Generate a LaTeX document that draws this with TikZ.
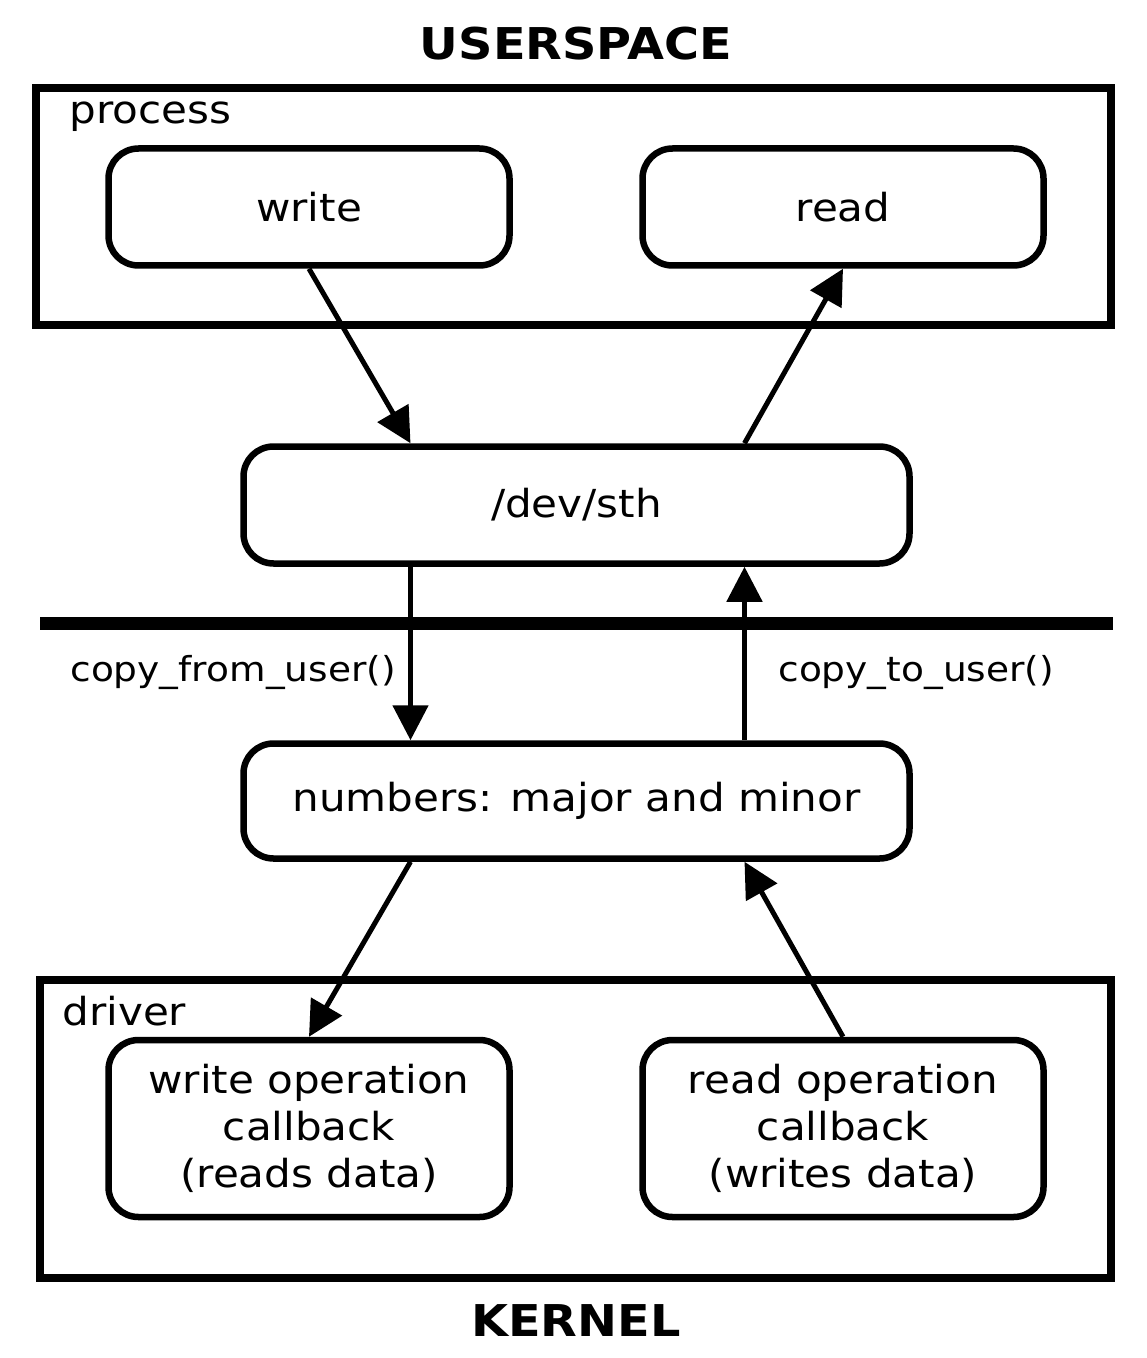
\documentclass[tikz,border=0pt]{standalone}
\usepackage{fontspec}
\setmainfont{DejaVu Sans}[FakeStretch=1.09]
\usetikzlibrary{arrows.meta}

\begin{document}
\begin{tikzpicture}[x=0.5pt,y=0.5pt]
\tikzstyle{every node}+=[inner sep=0pt]
\tikzstyle{box}=[draw, line width=3.25pt, rounded corners=15pt, minimum width=200.5pt, minimum height=58.5pt, align=center, font=\fontsize{19.3}{23.5}\selectfont]
\tikzstyle{frame}=[draw, line width=4pt]
\tikzstyle{title}=[font=\fontsize{21.9}{26}\selectfont\bfseries]
\tikzstyle{lbl}=[anchor=west, font=\fontsize{19.3}{23.5}\selectfont]
\tikzstyle{call}=[anchor=west, font=\fontsize{17.2}{21}\selectfont]
\tikzstyle{arr}=[line width=2.5pt, -{Triangle[length=17.5pt,width=17.5pt]}]
\useasboundingbox (0,0) rectangle (1146,-1358);
\node [title] (userspace) at (576,-43.5) {USERSPACE};
\node [frame, minimum width=537.5pt, minimum height=118.5pt] (process) at (573.5,-207) {};
\node [lbl] (processlbl) at (69,-117) {process};
\node [box] (write) at (309,-207) {write};
\node [box] (read) at (843,-207) {read};
\node [box, minimum width=333pt] (dev) at (576.5,-505) {/dev/sth};
\coordinate (sepL) at (40,-623.5);
\coordinate (sepR) at (1113,-623.5);
\draw [line width=6.5pt] (sepL) -- (sepR);
\node [call] (fromuser) at (70,-672) {copy\_from\_user()};
\node [call] (touser) at (778,-672) {copy\_to\_user()};
\node [box, minimum width=333pt, minimum height=57.5pt] (num) at (576.5,-801) {numbers: major and minor};
\node [frame, minimum width=535.5pt, minimum height=149pt] (driver) at (575.5,-1128.5) {};
\node [lbl] (driverlbl) at (62,-1011) {driver};
\node [box, minimum height=88.5pt] (wop) at (309,-1128.5) {write operation\\callback\\(reads data)};
\node [box, minimum height=88.5pt] (rop) at (843,-1128.5) {read operation\\callback\\(writes data)};
\node [title] (kernel) at (576,-1321) {KERNEL};
\draw [arr] (write.south) -- ([xshift=-83pt]dev.north);
\draw [arr] ([xshift=84pt]dev.north) -- (read.south);
\draw [arr] ([xshift=-83pt]dev.south) -- ([xshift=-83pt]num.north);
\draw [arr] ([xshift=84pt]num.north) -- ([xshift=84pt]dev.south);
\draw [arr] ([xshift=-83pt]num.south) -- (wop.north);
\draw [arr] (rop.north) -- ([xshift=84pt]num.south);
\end{tikzpicture}
\end{document}
